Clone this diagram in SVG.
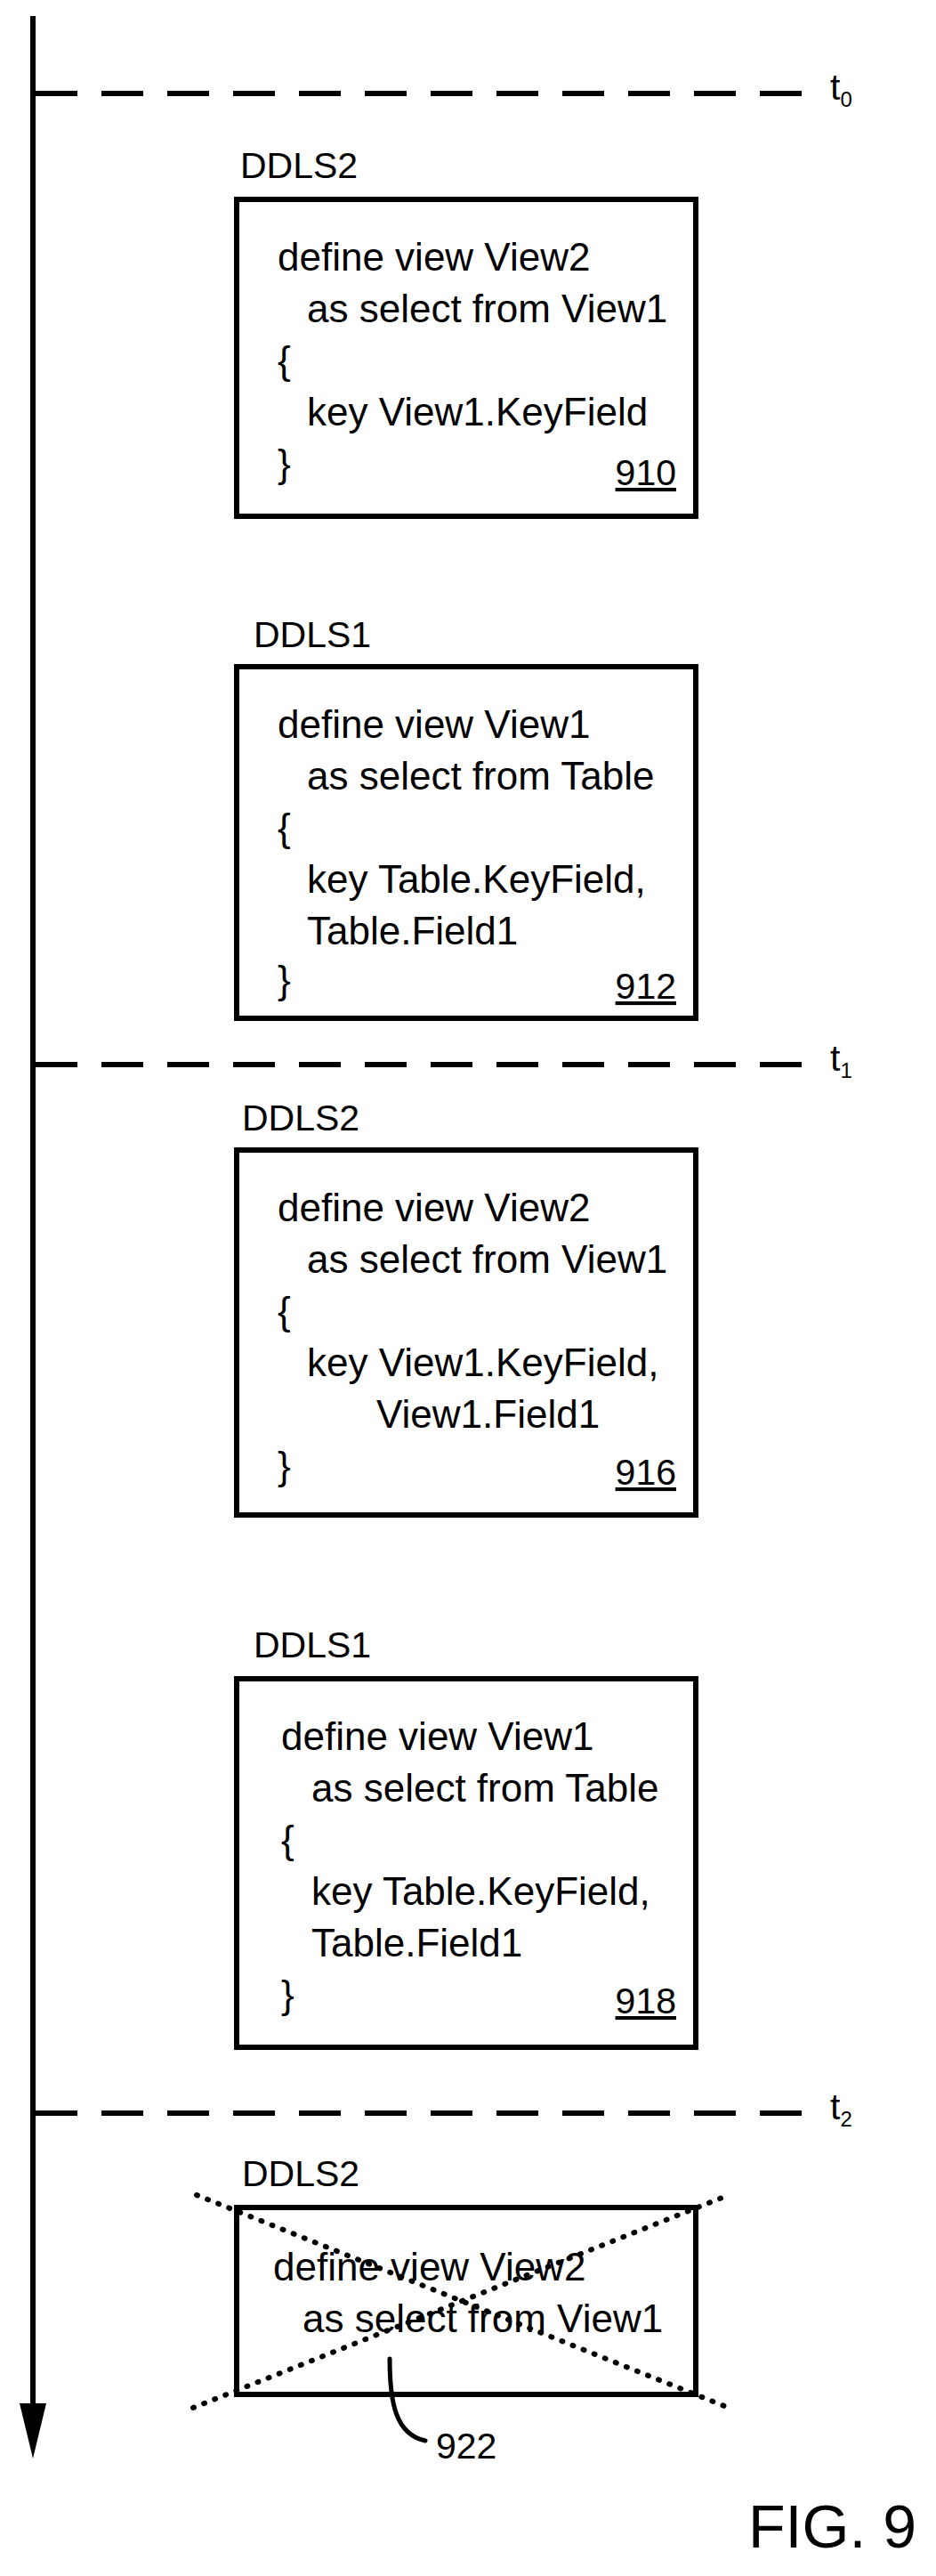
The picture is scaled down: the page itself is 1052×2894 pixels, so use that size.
<svg xmlns="http://www.w3.org/2000/svg" width="1052" height="2894" viewBox="0 0 1052 2894">
<style>
.b{fill:#fff;stroke:#000;stroke-width:6}
.t{font-family:"Liberation Sans",Arial,sans-serif;font-size:44px;fill:#000}
.l{font-family:"Liberation Sans",Arial,sans-serif;font-size:41px;fill:#000}
.d{stroke:#000;stroke-width:6;stroke-dasharray:47 27;fill:none}
.x{stroke:#000;stroke-width:6;stroke-dasharray:1 12;stroke-linecap:round;fill:none}
</style>
<g id="timeline">
<line x1="37" y1="18" x2="37" y2="2705" stroke="#000" stroke-width="6"/>
<polygon points="22,2700 52,2700 37,2762"/>
<line class="d" x1="40" y1="105" x2="920" y2="105"/>
<line class="d" x1="40" y1="1196" x2="920" y2="1196"/>
<line class="d" x1="40" y1="2374" x2="920" y2="2374"/>
<text class="l" x="933" y="112" font-size="32">t<tspan font-size="24" dy="8">0</tspan></text>
<text class="l" x="933" y="1203" font-size="32">t<tspan font-size="24" dy="8">1</tspan></text>
<text class="l" x="933" y="2381" font-size="32">t<tspan font-size="24" dy="8">2</tspan></text>
</g>
<g id="n910">
<text class="l" x="270" y="200">DDLS2</text>
<rect class="b" x="266" y="224" width="516" height="356"/>
<text class="t" x="312" y="304">define view View2</text>
<text class="t" x="345" y="362">as select from View1</text>
<text class="t" x="312" y="420">{</text>
<text class="t" x="345" y="478">key View1.KeyField</text>
<text class="t" x="312" y="536">}</text>
<text class="l" x="760" y="545" text-anchor="end" text-decoration="underline">910</text>
</g>
<g id="n912">
<text class="l" x="285" y="727">DDLS1</text>
<rect class="b" x="266" y="749" width="516" height="395"/>
<text class="t" x="312" y="829">define view View1</text>
<text class="t" x="345" y="887">as select from Table</text>
<text class="t" x="312" y="945">{</text>
<text class="t" x="345" y="1003">key Table.KeyField,</text>
<text class="t" x="345" y="1061">Table.Field1</text>
<text class="t" x="312" y="1116">}</text>
<text class="l" x="760" y="1122" text-anchor="end" text-decoration="underline">912</text>
</g>
<g id="n916">
<text class="l" x="272" y="1270">DDLS2</text>
<rect class="b" x="266" y="1292" width="516" height="410"/>
<text class="t" x="312" y="1372">define view View2</text>
<text class="t" x="345" y="1430">as select from View1</text>
<text class="t" x="312" y="1488">{</text>
<text class="t" x="345" y="1546">key View1.KeyField,</text>
<text class="t" x="423" y="1604">View1.Field1</text>
<text class="t" x="312" y="1662">}</text>
<text class="l" x="760" y="1668" text-anchor="end" text-decoration="underline">916</text>
</g>
<g id="n918">
<text class="l" x="285" y="1862">DDLS1</text>
<rect class="b" x="266" y="1886" width="516" height="414"/>
<text class="t" x="316" y="1966">define view View1</text>
<text class="t" x="350" y="2024">as select from Table</text>
<text class="t" x="316" y="2082">{</text>
<text class="t" x="350" y="2140">key Table.KeyField,</text>
<text class="t" x="350" y="2198">Table.Field1</text>
<text class="t" x="316" y="2256">}</text>
<text class="l" x="760" y="2262" text-anchor="end" text-decoration="underline">918</text>
</g>
<g id="n922">
<text class="l" x="272" y="2456">DDLS2</text>
<rect class="b" x="266" y="2480" width="516" height="210"/>
<text class="t" x="307" y="2562">define view View2</text>
<text class="t" x="340" y="2620">as select from View1</text>
<line class="x" x1="217" y1="2705" x2="819" y2="2466"/>
<line class="x" x1="221" y1="2466" x2="819" y2="2705"/>
</g>
<g id="connectors">
<path d="M438,2650 C438,2700 445,2735 478,2742" fill="none" stroke="#000" stroke-width="5" stroke-linecap="round"/>
</g>
<text class="l" x="490" y="2762" font-size="34">922</text>
<text x="1030" y="2862" text-anchor="end" font-family="Liberation Sans,Arial,sans-serif" font-size="68">FIG. 9</text>
</svg>
